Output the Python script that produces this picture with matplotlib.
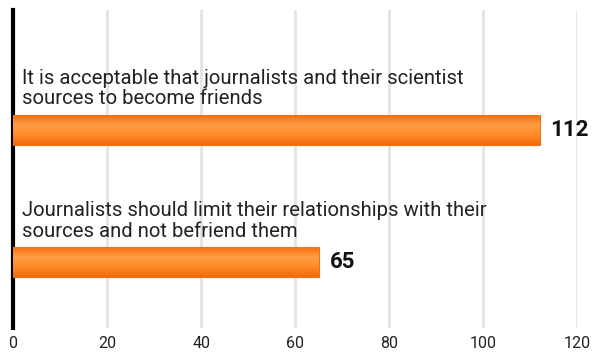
import numpy as np
import matplotlib.pyplot as plt
from matplotlib.colors import LinearSegmentedColormap

plt.rcParams['font.family'] = ['Roboto', 'DejaVu Sans']

categories = [
    "It is acceptable that journalists and their scientist\nsources to become friends",
    "Journalists should limit their relationships with their\nsources and not befriend them",
]
values = [112, 65]
xticks = [0, 20, 40, 60, 80, 100, 120]

fig = plt.figure(figsize=(5.92, 3.54), dpi=100)
ax = fig.add_axes([0.022, 0.073, 0.953, 0.899])

bar_h = 0.227
ypos = np.arange(len(values))
bars = ax.barh(ypos, values, height=bar_h, color='#ff8a2a', edgecolor='#f07010',
               linewidth=0.8, zorder=3)

# vertical shading on bars: darker edges, lighter middle
cmap = LinearSegmentedColormap.from_list('bar', ['#f4700e', '#ff9d45', '#ff8a2a', '#f06a0a'])
grad = np.linspace(0, 1, 64).reshape(-1, 1)
for b in bars:
    x0, y0 = b.get_x(), b.get_y()
    im = ax.imshow(grad, cmap=cmap, aspect='auto', zorder=3.5,
                   extent=(x0, x0 + b.get_width(), y0 + b.get_height(), y0))
    im.set_clip_path(b)

for y, v, lab in zip(ypos, values, categories):
    ax.text(2, y - bar_h / 2 - 0.05, lab, va='bottom', ha='left',
            fontsize=14.6, color='#222222', linespacing=1.1, zorder=4)
    ax.text(v + 2.3, y, str(v), va='center', ha='left', fontsize=16,
            fontweight='bold', color='#111111', zorder=4)

ax.set_xlim(0, 120)
ax.set_ylim(1.5, -0.909)
ax.set_xticks(xticks)
ax.set_yticks([])
ax.grid(axis='x', color='#e4e4e4', linewidth=2, zorder=0)
for s in ['top', 'right', 'bottom']:
    ax.spines[s].set_visible(False)
ax.spines['left'].set_linewidth(3)
ax.spines['left'].set_color('black')
ax.tick_params(axis='x', length=0, labelsize=11.5, labelcolor='#222222', pad=6)

fig.savefig('out.png', dpi=100)
